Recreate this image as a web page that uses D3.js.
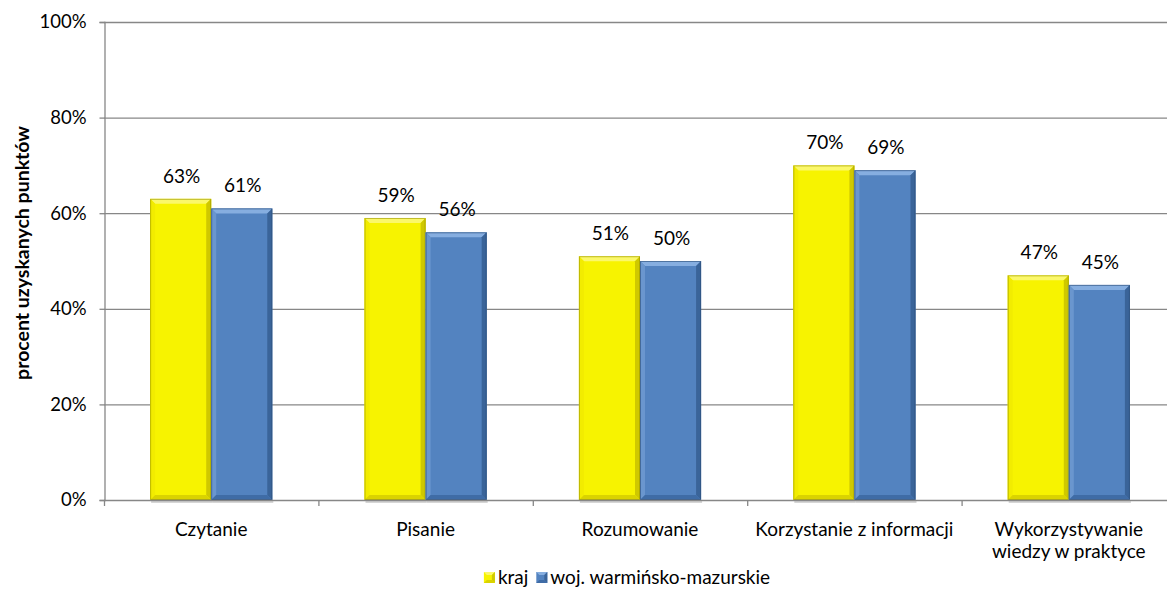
<!DOCTYPE html>
<html><head><meta charset="utf-8">
<script src="https://cdn.jsdelivr.net/npm/d3@7"></script>
<style>
html,body{margin:0;padding:0;background:#fff;}
svg{display:block;font-family:Lato, "Open Sans", sans-serif;}
</style></head>
<body><svg id="c" width="1167" height="594"></svg>
<script>
const categories = [["Czytanie"],["Pisanie"],["Rozumowanie"],["Korzystanie z informacji"],["Wykorzystywanie","wiedzy w praktyce"]];
const seriesNames = ["kraj","woj. warmińsko-mazurskie"];
const kraj = [63,59,51,70,47];
const woj = [61,56,50,69,45];
const yTicks = [0,20,40,60,80,100];

(function(){
const svg = d3.select("#c");
const W=1167,H=594;
const mLeft=104, mRight=1176, mTop=22, mBottom=500;
const x = d3.scaleBand().domain(d3.range(categories.length)).range([mLeft,mRight]).paddingInner(0).paddingOuter(0);
const y = d3.scaleLinear().domain([0,100]).range([mBottom,mTop]);
const colors = [
  {base:"#F7F300", top:"#FBF86A", left:"#F2EC00", right:"#CFC800", bot:"#DAD300", line:"#9A9400"},
  {base:"#5383C0", top:"#86AEE0", left:"#6A96CE", right:"#3A6499", bot:"#3F6CA6", line:"#2C4D77"}
];

svg.append("g").selectAll("line").data(yTicks.filter(d=>d>0)).join("line")
  .attr("x1",mLeft).attr("x2",W).attr("y1",d=>y(d)+0.5).attr("y2",d=>y(d)+0.5)
  .attr("stroke","#878787").attr("stroke-width",1.3);

const yAxis = d3.axisLeft(y).tickValues(yTicks).tickFormat(d=>d+"%").tickSize(5).tickPadding(13);
const gy = svg.append("g").attr("transform",`translate(${mLeft+0.5},0)`).call(yAxis);
gy.select(".domain").attr("stroke","#878787").attr("stroke-width",1.3);
gy.selectAll(".tick line").attr("stroke","#878787").attr("stroke-width",1.3);
gy.selectAll(".tick text").attr("font-size",18.5).attr("fill","#000").attr("font-family","Lato");

const inner = d3.scaleBand().domain([0,1]).range([0,x.bandwidth()]).paddingInner(0).paddingOuter(0.755);
const series=[kraj,woj];
const b=5;
series.forEach((vals,si)=>{
  const c=colors[si];
  const g=svg.append("g");
  vals.forEach((v,i)=>{
    const bx=x(i)+inner(si), bw=inner.bandwidth(), by=y(v), bh=mBottom-y(v);
    g.append("rect").attr("x",bx+1).attr("y",mBottom).attr("width",bw).attr("height",3).attr("fill","#bbb").attr("opacity",0.6);
    g.append("rect").attr("x",bx).attr("y",by).attr("width",bw).attr("height",bh).attr("fill",c.base);
    const poly=(pts,f)=>g.append("polygon").attr("points",pts.map(p=>p.join(",")).join(" ")).attr("fill",f);
    poly([[bx,by],[bx+bw,by],[bx+bw-b,by+b],[bx+b,by+b]],c.top);
    poly([[bx,by],[bx+b,by+b],[bx+b,by+bh-b],[bx,by+bh]],c.left);
    poly([[bx+bw,by],[bx+bw,by+bh],[bx+bw-b,by+bh-b],[bx+bw-b,by+b]],c.right);
    poly([[bx,by+bh],[bx+b,by+bh-b],[bx+bw-b,by+bh-b],[bx+bw,by+bh]],c.bot);
    g.append("rect").attr("x",bx+0.5).attr("y",by+0.5).attr("width",bw-1).attr("height",bh-1)
      .attr("fill","none").attr("stroke",c.line).attr("stroke-width",1).attr("opacity",0.6);
    g.append("text").attr("x",bx+bw/2+1).attr("y",by-16).attr("text-anchor","middle")
      .attr("font-size",19).attr("fill","#000").text(v+"%");
  });
});

svg.append("line").attr("x1",mLeft).attr("x2",W).attr("y1",mBottom+0.5).attr("y2",mBottom+0.5).attr("stroke","#878787").attr("stroke-width",1.3);
svg.append("g").selectAll("line").data(d3.range(categories.length+1)).join("line")
  .attr("x1",d=>mLeft+d*x.bandwidth()+0.5).attr("x2",d=>mLeft+d*x.bandwidth()+0.5)
  .attr("y1",mBottom).attr("y2",mBottom+6).attr("stroke","#878787").attr("stroke-width",1.3);
const xl = svg.append("g").selectAll("text").data(categories).join("text")
  .attr("x",(d,i)=>x(i)+x.bandwidth()/2).attr("y",536).attr("text-anchor","middle")
  .attr("font-size",19).attr("fill","#000");
xl.selectAll("tspan").data(d=>d).join("tspan").attr("x",function(){return this.parentNode.getAttribute("x");})
  .attr("dy",(d,j)=>j?22:0).text(d=>d);

svg.append("text").attr("transform",`translate(29,253) rotate(-90)`).attr("text-anchor","middle")
  .attr("font-size",19.5).attr("font-weight","bold").attr("fill","#000").text("procent uzyskanych punktów");

const lg = svg.append("g");
let cx = 0; const s=11, ly=572;
seriesNames.forEach((t,i)=>{
  const c=colors[i];
  const gi=lg.append("g").attr("transform",`translate(${cx},0)`);
  gi.append("rect").attr("x",0).attr("y",ly).attr("width",s).attr("height",s).attr("fill",c.base);
  gi.append("polygon").attr("points",`0,${ly} ${s},${ly} ${s-3},${ly+3} 3,${ly+3}`).attr("fill",c.top);
  gi.append("polygon").attr("points",`${s},${ly} ${s},${ly+s} ${s-3},${ly+s-3} ${s-3},${ly+3}`).attr("fill",c.right);
  gi.append("polygon").attr("points",`0,${ly+s} 3,${ly+s-3} ${s-3},${ly+s-3} ${s},${ly+s}`).attr("fill",c.bot);
  const tx=gi.append("text").attr("x",s+3).attr("y",ly+12).attr("font-size",19).attr("fill","#000").text(t);
  cx += s+3+tx.node().getComputedTextLength()+ 8;
});
const totalW = cx-8;
lg.attr("transform",`translate(${627-totalW/2},0)`);
})();
</script></body></html>
